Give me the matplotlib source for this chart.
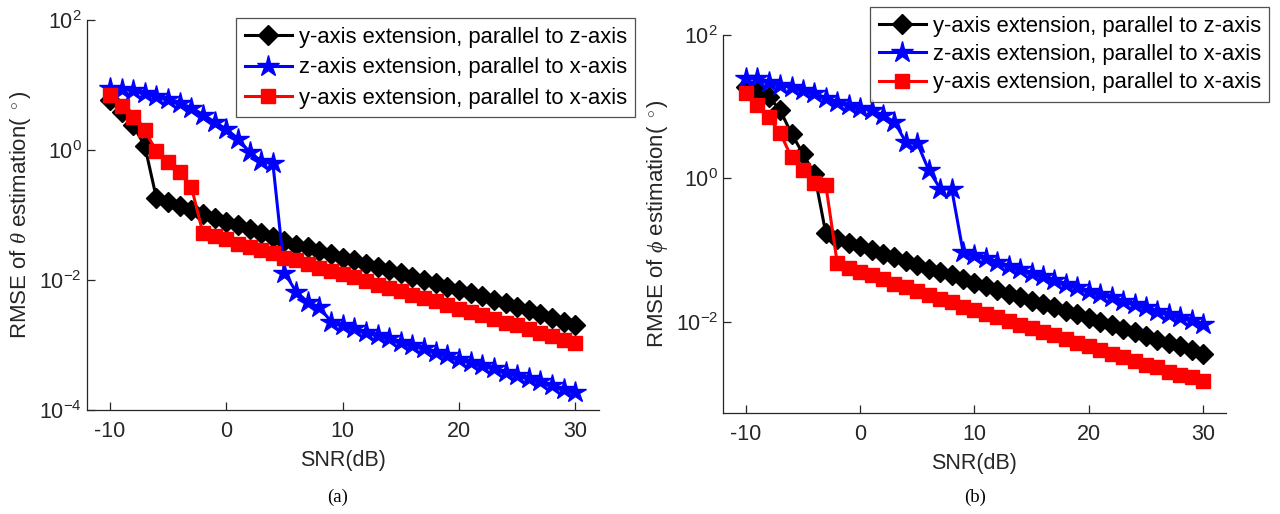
import matplotlib
matplotlib.use("Agg")
import matplotlib.pyplot as plt
import numpy as np

plt.rcParams['font.family'] = ['Liberation Sans', 'DejaVu Sans']
plt.rcParams['mathtext.fontset'] = 'custom'
plt.rcParams['mathtext.it'] = 'Liberation Serif:italic'
plt.rcParams['mathtext.rm'] = 'Liberation Sans'

snr = list(range(-10, 31))

labels = ["y-axis extension, parallel to z-axis",
          "z-axis extension, parallel to x-axis",
          "y-axis extension, parallel to x-axis"]

# (a) RMSE of theta
theta_yz = [5.9, 3.8, 2.4, 1.15, 0.18, 0.158, 0.138, 0.12, 0.105, 0.091,
            0.079, 0.069, 0.060, 0.052, 0.046, 0.040, 0.035, 0.032, 0.028, 0.025,
            0.022, 0.020, 0.0178, 0.0158, 0.0141, 0.0126, 0.0112, 0.0100, 0.0089, 0.0079,
            0.0071, 0.0063, 0.0056, 0.0049, 0.0044, 0.0039, 0.0034, 0.0030, 0.0026, 0.0023,
            0.0020]
theta_zx = [8.9, 8.7, 8.3, 7.6, 6.8, 6.0, 5.2, 4.5, 3.5, 2.7,
            2.1, 1.5, 0.93, 0.68, 0.63, 0.013, 0.0066, 0.0046, 0.0038, 0.0023,
            0.0020, 0.0018, 0.0016, 0.00145, 0.00126, 0.00112, 0.0010, 0.00089, 0.00079, 0.00071,
            0.00062, 0.00055, 0.00049, 0.00044, 0.00039, 0.00035, 0.00031, 0.00028, 0.00024, 0.00021,
            0.00019]
theta_yx = [7.1, 4.8, 3.2, 2.0, 0.95, 0.66, 0.46, 0.27, 0.052, 0.047,
            0.042, 0.036, 0.032, 0.029, 0.026, 0.022, 0.020, 0.0178, 0.0155, 0.0138,
            0.0123, 0.011, 0.0095, 0.0085, 0.0076, 0.0068, 0.0059, 0.0052, 0.0047, 0.0041,
            0.0036, 0.0032, 0.0029, 0.0025, 0.0022, 0.0020, 0.00174, 0.00155, 0.00138, 0.0012,
            0.00107]

# (b) RMSE of phi
phi_yz = [19.0, 16.6, 13.8, 8.9, 4.2, 2.2, 1.15, 0.17, 0.141, 0.126,
          0.112, 0.100, 0.089, 0.079, 0.069, 0.062, 0.055, 0.049, 0.044, 0.039,
          0.035, 0.031, 0.0275, 0.0245, 0.022, 0.0195, 0.0174, 0.0158, 0.0141, 0.0126,
          0.0112, 0.0100, 0.0089, 0.0079, 0.0071, 0.0063, 0.0056, 0.0050, 0.0045, 0.0040,
          0.0035]
phi_zx = [25.0, 25.0, 22.0, 20.0, 18.7, 17.0, 15.5, 13.2, 11.5, 10.5,
          9.5, 8.9, 7.6, 6.1, 3.2, 3.1, 1.3, 0.72, 0.72, 0.095,
          0.085, 0.076, 0.068, 0.060, 0.054, 0.048, 0.043, 0.038, 0.034, 0.030,
          0.027, 0.024, 0.022, 0.0195, 0.0174, 0.0158, 0.0141, 0.0129, 0.0115, 0.0105,
          0.0093]
phi_yx = [15.5, 10.5, 7.1, 4.3, 1.97, 1.3, 0.85, 0.8, 0.065, 0.056,
          0.050, 0.044, 0.039, 0.034, 0.030, 0.027, 0.0234, 0.021, 0.0186, 0.0162,
          0.0145, 0.0129, 0.0115, 0.0102, 0.0091, 0.0081, 0.0072, 0.0065, 0.0058, 0.0051,
          0.0045, 0.0040, 0.0035, 0.0032, 0.0028, 0.0025, 0.0023, 0.0020, 0.0018, 0.00166,
          0.0015]

xticks = [-10, 0, 10, 20, 30]

fig = plt.figure(figsize=(12.8, 5.14), dpi=100)
axA = fig.add_axes([0.0677, 0.2023, 0.400, 0.7588])
axB = fig.add_axes([0.5648, 0.1965, 0.393, 0.7354])

def style(ax, ylim, yticks, ylabel, legend_bbox, lspace):
    ax.set_yscale('log')
    ax.set_xlim(-12, 32)
    ax.set_ylim(*ylim)
    ax.set_xticks(xticks)
    ax.set_xticklabels([str(t) for t in xticks])
    ax.set_yticks(yticks)
    ax.yaxis.set_minor_locator(matplotlib.ticker.NullLocator())
    ax.spines['top'].set_visible(False)
    ax.spines['right'].set_visible(False)
    for s in ['left', 'bottom']:
        ax.spines[s].set_color('#262626')
        ax.spines[s].set_linewidth(0.9)
    ax.tick_params(axis='both', direction='in', length=6, width=0.9,
                   colors='#262626', labelsize=15.5, labelcolor='#262626')
    ax.tick_params(axis='x', pad=8)
    ax.set_xlabel('SNR(dB)', fontsize=15.5, color='#262626', labelpad=6)
    ax.set_ylabel(ylabel, fontsize=16, color='#262626', labelpad=4)
    leg = ax.legend(loc='upper left', bbox_to_anchor=legend_bbox,
                    bbox_transform=fig.transFigure, fontsize=15.8,
                    frameon=True, fancybox=False, edgecolor='#262626',
                    borderpad=0.4, labelspacing=lspace, handlelength=2.15,
                    handletextpad=0.3, borderaxespad=0)
    leg.get_frame().set_linewidth(0.9)

def plot_series(ax, yz, zx, yx):
    ax.plot(snr, yz, color='black', marker='D', markersize=10, lw=2.2,
            markerfacecolor='black', markeredgecolor='black', label=labels[0])
    ax.plot(snr, zx, color='blue', marker='*', markersize=16, lw=2.2,
            markerfacecolor='blue', markeredgecolor='blue', label=labels[1])
    ax.plot(snr, yx, color='red', marker='s', markersize=10, lw=2.2,
            markerfacecolor='red', markeredgecolor='red', label=labels[2])

plot_series(axA, theta_yz, theta_zx, theta_yx)
plot_series(axB, phi_yz, phi_zx, phi_yx)

style(axA, (1e-4, 1e2), [1e-4, 1e-2, 1e0, 1e2],
      r'RMSE of $\mathit{\theta}$ estimation( $^\circ$)', (236/1280, 1 - 18/514), 0.43)
style(axB, (5.3e-4, 1e2), [1e-2, 1e0, 1e2],
      r'RMSE of $\mathit{\phi}$ estimation( $^\circ$)', (870/1280, 1 - 7/514), 0.33)

fig.text(338/1280, 1 - 497/514, '(a)', family='Liberation Serif', fontsize=13.5,
         ha='center', va='center')
fig.text(975/1280, 1 - 497/514, '(b)', family='Liberation Serif', fontsize=13.5,
         ha='center', va='center')

fig.savefig('out.png', dpi=100)
